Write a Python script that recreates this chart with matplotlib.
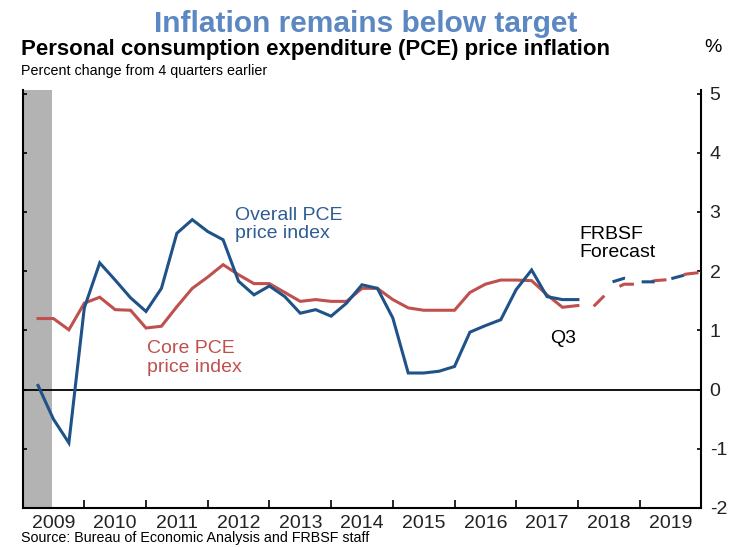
import numpy as np
import pandas as pd
import matplotlib
matplotlib.use("Agg")
import matplotlib.pyplot as plt

# ---------------- data ----------------
hist_quarters = [str(p) for p in pd.period_range("2009Q1", "2017Q4", freq="Q")]
overall_pce = [0.07, -0.50, -0.90, 1.38, 2.14, 1.85, 1.55, 1.32,
               1.71, 2.64, 2.87, 2.67, 2.53, 1.83, 1.60, 1.75,
               1.57, 1.29, 1.35, 1.24, 1.46, 1.77, 1.71, 1.21,
               0.28, 0.28, 0.31, 0.39, 0.97, 1.08, 1.18, 1.69,
               2.02, 1.57, 1.52, 1.52]
core_pce = [1.20, 1.20, 1.01, 1.46, 1.56, 1.35, 1.34, 1.04,
            1.07, 1.40, 1.71, 1.90, 2.11, 1.94, 1.79, 1.79,
            1.64, 1.49, 1.52, 1.49, 1.49, 1.71, 1.71, 1.52,
            1.38, 1.34, 1.34, 1.34, 1.64, 1.78, 1.85, 1.85,
            1.84, 1.60, 1.39, 1.42]

core_fc_quarters = [str(p) for p in pd.period_range("2017Q4", "2019Q4", freq="Q")]
core_forecast = [1.42, 1.40, 1.66, 1.78, 1.78, 1.84, 1.86, 1.95, 1.98]
overall_fc_quarters = [str(p) for p in pd.period_range("2018Q2", "2019Q4", freq="Q")]
overall_forecast = [1.80, 1.88, 1.82, 1.82, 1.87, 1.94, 1.98]

year_labels = [str(y) for y in range(2009, 2020)]
y_ticks = [-2, -1, 0, 1, 2, 3, 4, 5]


def qpos(q):
    return int(q[:4]) + int(q[-1]) / 4.0


# ---------------- style ----------------
plt.rcParams["font.family"] = ["Liberation Sans", "DejaVu Sans"]
plt.rcParams["lines.scale_dashes"] = False

BLUE = "#1f5288"
RED = "#c0504d"
TITLE_BLUE = "#5b87c2"
W, H = 737, 547

fig = plt.figure(figsize=(W / 100, H / 100), dpi=100)
ax = fig.add_axes([22.6 / W, 39 / H, (701.3 - 22.6) / W, (508 - 90) / H])

ax.set_xlim(2009.0, 2020.0)
ax.set_ylim(-2, 5.06)

ax.axvspan(2009.0, 2009.47, color="#b3b3b3", lw=0, zorder=0)
ax.axhline(0, color="black", lw=1.3, zorder=1)

xh = [qpos(q) for q in hist_quarters]
ax.plot(xh, core_pce, color=RED, lw=2.2, zorder=3, solid_joinstyle="miter")
ax.plot(xh, overall_pce, color=BLUE, lw=2.2, zorder=4, solid_joinstyle="miter")

pt = 72 / 100.0  # points per pixel
ax.plot([qpos(q) for q in core_fc_quarters], core_forecast, color=RED, lw=2.2,
        linestyle=(17 * pt, (15 * pt, 18 * pt)), zorder=3)
ax.plot([qpos(q) for q in overall_fc_quarters], overall_forecast, color=BLUE, lw=2.2,
        linestyle=(26 * pt, (13 * pt, 17 * pt)), zorder=4)

# spines
for s in ["left", "right", "bottom"]:
    ax.spines[s].set_color("black")
    ax.spines[s].set_linewidth(1.5)
ax.spines["top"].set_visible(False)

# y axis on the right
ax.set_yticks(y_ticks)
ax.set_yticklabels([str(v) for v in y_ticks])
ax.tick_params(axis="y", which="major", left=True, right=True, direction="in",
               length=3, width=1.2, labelleft=False, labelright=True,
               labelsize=14, pad=6, labelcolor="#222222")

# x axis: year boundaries as ticks, labels centred in each year
ax.set_xticks(range(2010, 2020))
ax.set_xticklabels([])
ax.set_xticks(np.arange(2009.5, 2020, 1.0), minor=True)
ax.set_xticklabels(year_labels, minor=True)
ax.tick_params(axis="x", which="major", direction="in", length=6, width=1.2,
               bottom=True, top=False)
ax.tick_params(axis="x", which="minor", length=0, labelsize=14, pad=5,
               labelcolor="#222222")

# annotations
ax.text(2012.44, 3.09, "Overall PCE\nprice index", color="#2d5d94", fontsize=14,
        ha="left", va="top", linespacing=1.1)
ax.text(2011.02, 0.83, "Core PCE\nprice index", color=RED, fontsize=14,
        ha="left", va="top", linespacing=1.1)
ax.text(2018.02, 2.76, "FRBSF\nForecast", color="black", fontsize=14,
        ha="left", va="top", linespacing=1.1)
ax.text(2017.55, 0.86, "Q3", color="black", fontsize=14, ha="left", va="center")

# titles
fig.text(366 / W, 1 - 31.5 / H, "Inflation remains below target", color=TITLE_BLUE,
         fontsize=21.5, fontweight="bold", ha="center", va="baseline")
fig.text(21 / W, 1 - 55.5 / H, "Personal consumption expenditure (PCE) price inflation",
         color="black", fontsize=16, fontweight="bold", ha="left", va="baseline")
fig.text(21 / W, 1 - 75.5 / H, "Percent change from 4 quarters earlier",
         color="black", fontsize=10.3, ha="left", va="baseline")
fig.text(713 / W, 1 - 48 / H, "%", color="black", fontsize=14,
         ha="center", va="center")
fig.text(21 / W, 1 - 538 / H, "Source: Bureau of Economic Analysis and FRBSF staff",
         color="black", fontsize=10.3, ha="left", va="center")

fig.savefig("out.png", dpi=100)
